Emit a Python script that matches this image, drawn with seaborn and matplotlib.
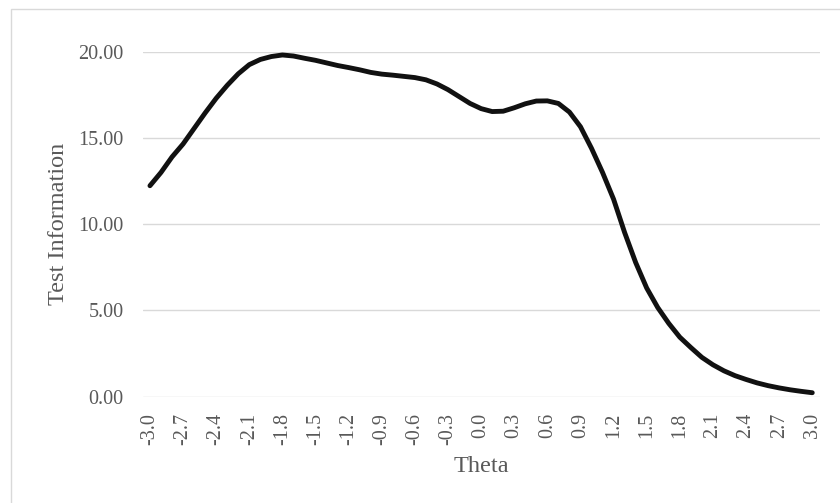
import matplotlib
matplotlib.use("Agg")
import matplotlib.pyplot as plt
import pandas as pd
import seaborn as sns
from matplotlib.patches import Rectangle

# theta grid (step 0.1) and test information
theta = [round(-3.0 + 0.1 * i, 1) for i in range(61)]
info = [
    12.23, 13.00, 13.90, 14.65, 15.55, 16.45, 17.30, 18.05, 18.72, 19.25,
    19.55, 19.72, 19.81, 19.75, 19.62, 19.50, 19.35, 19.20, 19.08, 18.95,
    18.80, 18.70, 18.64, 18.57, 18.50, 18.37, 18.13, 17.80, 17.40, 17.00,
    16.70, 16.53, 16.55, 16.75, 16.98, 17.14, 17.15, 17.00, 16.50, 15.65,
    14.40, 13.00, 11.45, 9.52, 7.78, 6.30, 5.17, 4.25, 3.45, 2.85,
    2.28, 1.85, 1.50, 1.22, 1.00, 0.80, 0.64, 0.51, 0.40, 0.31,
    0.23,
]
tick_theta = [round(-3.0 + 0.3 * i, 1) for i in range(21)]
y_ticks = [0, 5, 10, 15, 20]

df = pd.DataFrame({"Theta": theta, "Test Information": info})

sns.set_style("white")
plt.rcParams["font.family"] = ["Liberation Serif", "DejaVu Serif"]
text_grey = "#595959"

fig = plt.figure(figsize=(8.4, 5.03), dpi=100)
ax = fig.add_axes([143 / 840, 1 - 396.7 / 503, (820 - 143) / 840, (396.7 - 51.7) / 503])

# light chart frame like an Excel chart area
fig.patches.append(Rectangle((11 / 840, -0.05), 1.0, 1 - 9 / 503 + 0.05,
                             transform=fig.transFigure, fill=False,
                             edgecolor="#d9d9d9", linewidth=1.0))

for yv in y_ticks:
    ax.axhline(yv, color="#d9d9d9", linewidth=1.0, zorder=0)

sns.lineplot(data=df, x="Theta", y="Test Information", ax=ax,
             color="#111111", linewidth=3.5, solid_capstyle="round",
             solid_joinstyle="round")

ax.set_xlim(-3.063, 3.07)
ax.set_ylim(0, 20)
ax.set_xticks(tick_theta)
ax.set_xticklabels([f"{t:.1f}" for t in tick_theta], rotation=90)
ax.set_yticks(y_ticks)
ax.set_yticklabels([f"{v:.2f}" for v in y_ticks])
ax.tick_params(axis="x", length=0, pad=11.5, labelsize=14.5, colors=text_grey)
ax.tick_params(axis="y", length=0, pad=14, labelsize=14.5, colors=text_grey)
ax.set_xlabel("Theta", fontsize=17.5, color=text_grey, labelpad=8)
ax.set_ylabel("Test Information", fontsize=17.5, color=text_grey, labelpad=7)
for s in ax.spines.values():
    s.set_visible(False)

fig.savefig("out.png", dpi=100)
